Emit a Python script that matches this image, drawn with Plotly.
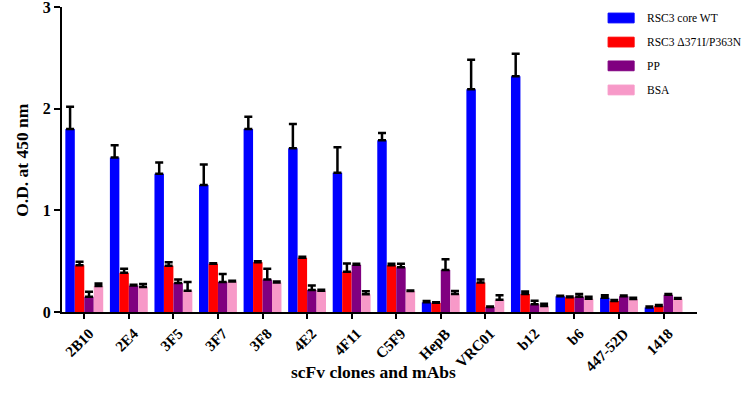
import plotly.graph_objects as go

categories = ["2B10", "2E4", "3F5", "3F7", "3F8", "4E2", "4F11", "C5F9",
              "HepB", "VRC01", "b12", "b6", "447-52D", "1418"]

series_names = ["RSC3 core WT", "RSC3 \u0394371I/P363N", "PP", "BSA"]

wt_vals = [1.80, 1.52, 1.36, 1.25, 1.80, 1.61, 1.37, 1.69, 0.095, 2.19, 2.32, 0.155, 0.14, 0.045]
wt_err = [0.22, 0.12, 0.11, 0.20, 0.12, 0.24, 0.25, 0.07, 0.013, 0.29, 0.22, 0.005, 0.025, 0.008]

mut_vals = [0.46, 0.385, 0.455, 0.475, 0.49, 0.534, 0.396, 0.46, 0.09, 0.29, 0.177, 0.145, 0.108, 0.06]
mut_err = [0.035, 0.04, 0.035, 0.005, 0.01, 0.01, 0.08, 0.015, 0.005, 0.03, 0.025, 0.008, 0.01, 0.008]

pp_vals = [0.15, 0.26, 0.285, 0.295, 0.32, 0.216, 0.465, 0.44, 0.413, 0.05, 0.076, 0.15, 0.155, 0.17]
pp_err = [0.05, 0.008, 0.035, 0.08, 0.105, 0.045, 0.01, 0.035, 0.107, 0.005, 0.035, 0.027, 0.008, 0.008]

bsa_vals = [0.255, 0.245, 0.21, 0.30, 0.29, 0.21, 0.174, 0.206, 0.177, 0.12, 0.06, 0.13, 0.128, 0.13]
bsa_err = [0.025, 0.03, 0.085, 0.008, 0.01, 0.008, 0.03, 0.006, 0.03, 0.045, 0.02, 0.02, 0.012, 0.008]

y_ticks = [0, 1, 2, 3]

x_title = "scFv clones and mAbs"
y_title = "O.D. at 450 nm"

colors = ["#0000FF", "#FF0000", "#800080", "#F799C8"]
all_vals = [wt_vals, mut_vals, pp_vals, bsa_vals]
all_errs = [wt_err, mut_err, pp_err, bsa_err]

FONT = "Liberation Serif"

fig = go.Figure()
for i, (name, vals, errs, col) in enumerate(zip(series_names, all_vals, all_errs, colors)):
    fig.add_trace(go.Bar(
        x=categories, y=vals, name=name, showlegend=False,
        marker=dict(color=col, line=dict(width=0)),
        error_y=dict(type="data", array=errs, arrayminus=[0] * len(errs),
                     symmetric=False, color="black", thickness=2.5, width=4),
    ))

# Custom legend (wide swatches like the original)
legend_y = [0.964, 0.885, 0.807, 0.728]
for name, col, ly in zip(series_names, colors, legend_y):
    fig.add_shape(type="rect", xref="paper", yref="paper",
                  x0=0.860, x1=0.901, y0=ly - 0.016, y1=ly + 0.016,
                  fillcolor=col, line=dict(color=col, width=1))
    fig.add_annotation(text=name, xref="paper", yref="paper", x=0.918, y=ly,
                       xanchor="left", yanchor="middle", showarrow=False,
                       font=dict(family=FONT, size=11.5, color="black"))

# axis titles as annotations
fig.add_annotation(text=f"<b>{x_title}</b>", xref="paper", yref="paper",
                   x=0.49, y=-0.197, xanchor="center", yanchor="middle",
                   showarrow=False, font=dict(family=FONT, size=17.5, color="black"))
fig.add_annotation(text=f"<b>{y_title}</b>", xref="paper", yref="paper",
                   x=-0.064, y=0.5, xanchor="center", yanchor="middle", textangle=-90,
                   showarrow=False, font=dict(family=FONT, size=17.5, color="black"))

fig.update_layout(
    width=744, height=395,
    margin=dict(l=62, r=47, t=7, b=83),
    paper_bgcolor="white", plot_bgcolor="white",
    barmode="group", bargap=0.15, bargroupgap=0,
    font=dict(family=FONT, color="black"),
    showlegend=False,
    xaxis=dict(
        range=[-0.5, 13.75], showline=True, linecolor="black", linewidth=2,
        ticks="outside", ticklen=5, tickwidth=2, tickcolor="black",
        tickangle=-45, showgrid=False, zeroline=False, automargin=False,
        ticklabelstandoff=0, ticklabelshift=5,
        tickfont=dict(family=FONT, size=15, color="black", weight="bold"),
    ),
    yaxis=dict(
        range=[0, 3], showline=True, linecolor="black", linewidth=2,
        tickvals=y_ticks, ticktext=[f"<b>{t}</b>" for t in y_ticks],
        ticks="outside", ticklen=6, tickwidth=2, tickcolor="black",
        showgrid=False, zeroline=False, automargin=False,
        ticklabeloverflow="allow",
        tickfont=dict(family=FONT, size=16, color="black"),
    ),
)

fig.write_html("out.html", config={"displayModeBar": False},
               post_script="document.body.style.margin='0';document.body.style.overflow='hidden';")
